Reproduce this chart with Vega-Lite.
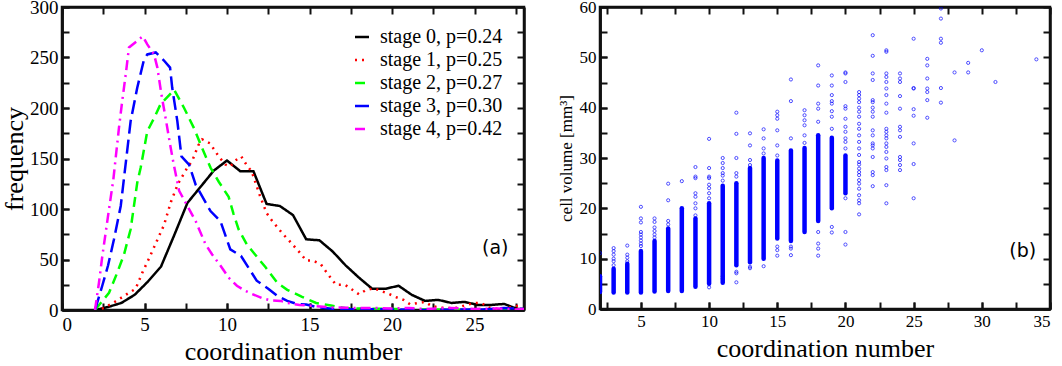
{
  "$schema": "https://vega.github.io/schema/vega-lite/v6.json",
  "padding": {"left": 0, "top": -4, "right": 2, "bottom": 0},
  "spacing": 20,
  "config": {
    "font": "Liberation Serif",
    "view": {"stroke": "#111111", "strokeWidth": 2.5},
    "axis": {"domain": true, "domainColor": "#111111", "domainWidth": 2.5, "grid": false, "ticks": true, "tickColor": "#111111", "tickWidth": 2, "tickSize": -7, "labelColor": "black", "titleColor": "black", "titleFontWeight": "normal", "labelFont": "Liberation Serif", "titleFont": "Liberation Serif", "minExtent": 0}
  },
  "datasets": {
    "hist": [
      {"stage": "stage 0, p=0.24", "n": 2.0, "f": 0}, {"stage": "stage 0, p=0.24", "n": 2.8, "f": 3}, {"stage": "stage 0, p=0.24", "n": 3.6, "f": 7}, {"stage": "stage 0, p=0.24", "n": 4.4, "f": 15}, {"stage": "stage 0, p=0.24", "n": 5.2, "f": 28}, {"stage": "stage 0, p=0.24", "n": 6.0, "f": 43}, {"stage": "stage 0, p=0.24", "n": 6.8, "f": 74}, {"stage": "stage 0, p=0.24", "n": 7.6, "f": 106}, {"stage": "stage 0, p=0.24", "n": 8.4, "f": 122}, {"stage": "stage 0, p=0.24", "n": 9.2, "f": 138}, {"stage": "stage 0, p=0.24", "n": 10.0, "f": 148}, {"stage": "stage 0, p=0.24", "n": 10.8, "f": 137.5}, {"stage": "stage 0, p=0.24", "n": 11.6, "f": 137.5}, {"stage": "stage 0, p=0.24", "n": 12.4, "f": 105}, {"stage": "stage 0, p=0.24", "n": 13.2, "f": 103}, {"stage": "stage 0, p=0.24", "n": 14.0, "f": 94}, {"stage": "stage 0, p=0.24", "n": 14.8, "f": 70}, {"stage": "stage 0, p=0.24", "n": 15.6, "f": 69}, {"stage": "stage 0, p=0.24", "n": 16.4, "f": 58}, {"stage": "stage 0, p=0.24", "n": 17.2, "f": 44}, {"stage": "stage 0, p=0.24", "n": 18.0, "f": 32}, {"stage": "stage 0, p=0.24", "n": 18.8, "f": 21}, {"stage": "stage 0, p=0.24", "n": 19.6, "f": 21}, {"stage": "stage 0, p=0.24", "n": 20.4, "f": 24}, {"stage": "stage 0, p=0.24", "n": 21.2, "f": 15}, {"stage": "stage 0, p=0.24", "n": 22.0, "f": 9}, {"stage": "stage 0, p=0.24", "n": 22.8, "f": 10}, {"stage": "stage 0, p=0.24", "n": 23.6, "f": 7}, {"stage": "stage 0, p=0.24", "n": 24.4, "f": 8}, {"stage": "stage 0, p=0.24", "n": 25.2, "f": 5}, {"stage": "stage 0, p=0.24", "n": 26.0, "f": 5}, {"stage": "stage 0, p=0.24", "n": 26.8, "f": 6}, {"stage": "stage 0, p=0.24", "n": 27.6, "f": 1}, {"stage": "stage 0, p=0.24", "n": 28.4, "f": 1},
      {"stage": "stage 1, p=0.25", "n": 2.0, "f": 0}, {"stage": "stage 1, p=0.25", "n": 2.55, "f": 2}, {"stage": "stage 1, p=0.25", "n": 3.2, "f": 8}, {"stage": "stage 1, p=0.25", "n": 3.96, "f": 16}, {"stage": "stage 1, p=0.25", "n": 4.46, "f": 21}, {"stage": "stage 1, p=0.25", "n": 4.87, "f": 37}, {"stage": "stage 1, p=0.25", "n": 5.3, "f": 52}, {"stage": "stage 1, p=0.25", "n": 5.74, "f": 68}, {"stage": "stage 1, p=0.25", "n": 6.18, "f": 84}, {"stage": "stage 1, p=0.25", "n": 6.6, "f": 107}, {"stage": "stage 1, p=0.25", "n": 7.03, "f": 125}, {"stage": "stage 1, p=0.25", "n": 7.6, "f": 141}, {"stage": "stage 1, p=0.25", "n": 7.9, "f": 148}, {"stage": "stage 1, p=0.25", "n": 8.26, "f": 163}, {"stage": "stage 1, p=0.25", "n": 8.5, "f": 169}, {"stage": "stage 1, p=0.25", "n": 8.97, "f": 165}, {"stage": "stage 1, p=0.25", "n": 9.5, "f": 152}, {"stage": "stage 1, p=0.25", "n": 9.9, "f": 144}, {"stage": "stage 1, p=0.25", "n": 10.2, "f": 142}, {"stage": "stage 1, p=0.25", "n": 10.5, "f": 148}, {"stage": "stage 1, p=0.25", "n": 10.87, "f": 152}, {"stage": "stage 1, p=0.25", "n": 11.17, "f": 144}, {"stage": "stage 1, p=0.25", "n": 11.5, "f": 137}, {"stage": "stage 1, p=0.25", "n": 12.0, "f": 113}, {"stage": "stage 1, p=0.25", "n": 12.4, "f": 96}, {"stage": "stage 1, p=0.25", "n": 12.7, "f": 89}, {"stage": "stage 1, p=0.25", "n": 13.4, "f": 75}, {"stage": "stage 1, p=0.25", "n": 13.75, "f": 69}, {"stage": "stage 1, p=0.25", "n": 14.4, "f": 57}, {"stage": "stage 1, p=0.25", "n": 14.8, "f": 49}, {"stage": "stage 1, p=0.25", "n": 15.2, "f": 49}, {"stage": "stage 1, p=0.25", "n": 15.7, "f": 45}, {"stage": "stage 1, p=0.25", "n": 16.0, "f": 38}, {"stage": "stage 1, p=0.25", "n": 16.6, "f": 25}, {"stage": "stage 1, p=0.25", "n": 17.15, "f": 25}, {"stage": "stage 1, p=0.25", "n": 17.6, "f": 20}, {"stage": "stage 1, p=0.25", "n": 18.0, "f": 15.5}, {"stage": "stage 1, p=0.25", "n": 18.4, "f": 19.5}, {"stage": "stage 1, p=0.25", "n": 18.9, "f": 21.5}, {"stage": "stage 1, p=0.25", "n": 19.3, "f": 19}, {"stage": "stage 1, p=0.25", "n": 19.8, "f": 16}, {"stage": "stage 1, p=0.25", "n": 20.2, "f": 13}, {"stage": "stage 1, p=0.25", "n": 20.7, "f": 10}, {"stage": "stage 1, p=0.25", "n": 21.1, "f": 5.6}, {"stage": "stage 1, p=0.25", "n": 21.6, "f": 7}, {"stage": "stage 1, p=0.25", "n": 22.0, "f": 8}, {"stage": "stage 1, p=0.25", "n": 22.4, "f": 4}, {"stage": "stage 1, p=0.25", "n": 22.95, "f": 2.3}, {"stage": "stage 1, p=0.25", "n": 23.4, "f": 2}, {"stage": "stage 1, p=0.25", "n": 23.95, "f": 2.3}, {"stage": "stage 1, p=0.25", "n": 24.5, "f": 5}, {"stage": "stage 1, p=0.25", "n": 25.0, "f": 7}, {"stage": "stage 1, p=0.25", "n": 25.4, "f": 7}, {"stage": "stage 1, p=0.25", "n": 25.9, "f": 2.3}, {"stage": "stage 1, p=0.25", "n": 26.35, "f": 1.3}, {"stage": "stage 1, p=0.25", "n": 26.8, "f": 0.7}, {"stage": "stage 1, p=0.25", "n": 27.4, "f": 4}, {"stage": "stage 1, p=0.25", "n": 27.9, "f": 4},
      {"stage": "stage 2, p=0.27", "n": 2.0, "f": 0}, {"stage": "stage 2, p=0.27", "n": 2.85, "f": 17}, {"stage": "stage 2, p=0.27", "n": 3.3, "f": 35}, {"stage": "stage 2, p=0.27", "n": 3.76, "f": 55}, {"stage": "stage 2, p=0.27", "n": 4.16, "f": 80}, {"stage": "stage 2, p=0.27", "n": 4.56, "f": 126}, {"stage": "stage 2, p=0.27", "n": 4.77, "f": 141}, {"stage": "stage 2, p=0.27", "n": 5.17, "f": 177}, {"stage": "stage 2, p=0.27", "n": 5.58, "f": 190}, {"stage": "stage 2, p=0.27", "n": 5.98, "f": 204}, {"stage": "stage 2, p=0.27", "n": 6.28, "f": 209}, {"stage": "stage 2, p=0.27", "n": 6.8, "f": 218}, {"stage": "stage 2, p=0.27", "n": 7.4, "f": 200}, {"stage": "stage 2, p=0.27", "n": 8.0, "f": 180}, {"stage": "stage 2, p=0.27", "n": 8.5, "f": 160}, {"stage": "stage 2, p=0.27", "n": 9.0, "f": 141}, {"stage": "stage 2, p=0.27", "n": 9.5, "f": 127}, {"stage": "stage 2, p=0.27", "n": 10.1, "f": 112}, {"stage": "stage 2, p=0.27", "n": 10.4, "f": 95}, {"stage": "stage 2, p=0.27", "n": 10.7, "f": 80}, {"stage": "stage 2, p=0.27", "n": 11.2, "f": 65}, {"stage": "stage 2, p=0.27", "n": 11.7, "f": 55}, {"stage": "stage 2, p=0.27", "n": 12.35, "f": 42}, {"stage": "stage 2, p=0.27", "n": 13.05, "f": 27}, {"stage": "stage 2, p=0.27", "n": 13.65, "f": 20}, {"stage": "stage 2, p=0.27", "n": 14.55, "f": 13}, {"stage": "stage 2, p=0.27", "n": 15.4, "f": 7}, {"stage": "stage 2, p=0.27", "n": 16.3, "f": 4.5}, {"stage": "stage 2, p=0.27", "n": 17.2, "f": 1.8}, {"stage": "stage 2, p=0.27", "n": 18.8, "f": 1.3}, {"stage": "stage 2, p=0.27", "n": 20.0, "f": 1}, {"stage": "stage 2, p=0.27", "n": 22.0, "f": 0.5}, {"stage": "stage 2, p=0.27", "n": 24.0, "f": 0.3}, {"stage": "stage 2, p=0.27", "n": 26.0, "f": 0.5}, {"stage": "stage 2, p=0.27", "n": 28.0, "f": 0},
      {"stage": "stage 3, p=0.30", "n": 2.0, "f": 0}, {"stage": "stage 3, p=0.30", "n": 2.44, "f": 24}, {"stage": "stage 3, p=0.30", "n": 2.79, "f": 44}, {"stage": "stage 3, p=0.30", "n": 3.15, "f": 70}, {"stage": "stage 3, p=0.30", "n": 3.56, "f": 103}, {"stage": "stage 3, p=0.30", "n": 4.16, "f": 187}, {"stage": "stage 3, p=0.30", "n": 4.56, "f": 220}, {"stage": "stage 3, p=0.30", "n": 4.97, "f": 248}, {"stage": "stage 3, p=0.30", "n": 5.17, "f": 253}, {"stage": "stage 3, p=0.30", "n": 5.68, "f": 255}, {"stage": "stage 3, p=0.30", "n": 6.18, "f": 247}, {"stage": "stage 3, p=0.30", "n": 6.55, "f": 240}, {"stage": "stage 3, p=0.30", "n": 6.68, "f": 220}, {"stage": "stage 3, p=0.30", "n": 6.99, "f": 187}, {"stage": "stage 3, p=0.30", "n": 7.24, "f": 152}, {"stage": "stage 3, p=0.30", "n": 7.7, "f": 144}, {"stage": "stage 3, p=0.30", "n": 8.1, "f": 124}, {"stage": "stage 3, p=0.30", "n": 9.0, "f": 98}, {"stage": "stage 3, p=0.30", "n": 9.6, "f": 88}, {"stage": "stage 3, p=0.30", "n": 10.2, "f": 60}, {"stage": "stage 3, p=0.30", "n": 10.85, "f": 53.5}, {"stage": "stage 3, p=0.30", "n": 11.3, "f": 42}, {"stage": "stage 3, p=0.30", "n": 11.8, "f": 29}, {"stage": "stage 3, p=0.30", "n": 12.5, "f": 21}, {"stage": "stage 3, p=0.30", "n": 13.05, "f": 14}, {"stage": "stage 3, p=0.30", "n": 13.65, "f": 9}, {"stage": "stage 3, p=0.30", "n": 14.26, "f": 6}, {"stage": "stage 3, p=0.30", "n": 14.8, "f": 5.5}, {"stage": "stage 3, p=0.30", "n": 15.5, "f": 2.6}, {"stage": "stage 3, p=0.30", "n": 16.9, "f": 0.5}, {"stage": "stage 3, p=0.30", "n": 18.3, "f": 1}, {"stage": "stage 3, p=0.30", "n": 20.0, "f": 0.5}, {"stage": "stage 3, p=0.30", "n": 22.0, "f": 0}, {"stage": "stage 3, p=0.30", "n": 24.0, "f": 0.5}, {"stage": "stage 3, p=0.30", "n": 25.5, "f": 0.5}, {"stage": "stage 3, p=0.30", "n": 26.8, "f": 2}, {"stage": "stage 3, p=0.30", "n": 28.0, "f": 1},
      {"stage": "stage 4, p=0.42", "n": 2.0, "f": 0}, {"stage": "stage 4, p=0.42", "n": 2.24, "f": 27}, {"stage": "stage 4, p=0.42", "n": 2.44, "f": 53}, {"stage": "stage 4, p=0.42", "n": 2.65, "f": 77}, {"stage": "stage 4, p=0.42", "n": 2.85, "f": 100}, {"stage": "stage 4, p=0.42", "n": 3.11, "f": 129}, {"stage": "stage 4, p=0.42", "n": 3.45, "f": 180}, {"stage": "stage 4, p=0.42", "n": 3.65, "f": 207}, {"stage": "stage 4, p=0.42", "n": 3.86, "f": 233}, {"stage": "stage 4, p=0.42", "n": 4.06, "f": 260}, {"stage": "stage 4, p=0.42", "n": 4.9, "f": 271}, {"stage": "stage 4, p=0.42", "n": 5.17, "f": 263}, {"stage": "stage 4, p=0.42", "n": 5.58, "f": 253}, {"stage": "stage 4, p=0.42", "n": 5.78, "f": 240}, {"stage": "stage 4, p=0.42", "n": 6.02, "f": 214}, {"stage": "stage 4, p=0.42", "n": 6.28, "f": 190}, {"stage": "stage 4, p=0.42", "n": 6.55, "f": 164}, {"stage": "stage 4, p=0.42", "n": 6.75, "f": 146}, {"stage": "stage 4, p=0.42", "n": 7.1, "f": 118}, {"stage": "stage 4, p=0.42", "n": 7.6, "f": 103}, {"stage": "stage 4, p=0.42", "n": 8.1, "f": 88}, {"stage": "stage 4, p=0.42", "n": 8.7, "f": 65}, {"stage": "stage 4, p=0.42", "n": 9.1, "f": 55}, {"stage": "stage 4, p=0.42", "n": 9.6, "f": 44}, {"stage": "stage 4, p=0.42", "n": 10.1, "f": 32}, {"stage": "stage 4, p=0.42", "n": 10.6, "f": 24}, {"stage": "stage 4, p=0.42", "n": 11.1, "f": 19}, {"stage": "stage 4, p=0.42", "n": 11.5, "f": 16}, {"stage": "stage 4, p=0.42", "n": 12.1, "f": 12}, {"stage": "stage 4, p=0.42", "n": 12.6, "f": 9.6}, {"stage": "stage 4, p=0.42", "n": 13.25, "f": 9}, {"stage": "stage 4, p=0.42", "n": 13.65, "f": 7}, {"stage": "stage 4, p=0.42", "n": 14.4, "f": 5}, {"stage": "stage 4, p=0.42", "n": 15.2, "f": 4}, {"stage": "stage 4, p=0.42", "n": 16.3, "f": 2.5}, {"stage": "stage 4, p=0.42", "n": 18.0, "f": 2}, {"stage": "stage 4, p=0.42", "n": 18.8, "f": 2}, {"stage": "stage 4, p=0.42", "n": 20.0, "f": 1.5}, {"stage": "stage 4, p=0.42", "n": 21.0, "f": 2}, {"stage": "stage 4, p=0.42", "n": 22.0, "f": 1}, {"stage": "stage 4, p=0.42", "n": 23.5, "f": 2}, {"stage": "stage 4, p=0.42", "n": 25.0, "f": 1}, {"stage": "stage 4, p=0.42", "n": 26.5, "f": 1.5}, {"stage": "stage 4, p=0.42", "n": 27.5, "f": 0.5}, {"stage": "stage 4, p=0.42", "n": 28.0, "f": 1}
    ],
    "bands": [
      {"n": 2, "lo": 3.4, "hi": 6.5}, {"n": 3, "lo": 3.3, "hi": 8.0}, {"n": 4, "lo": 3.3, "hi": 9.0}, {"n": 5, "lo": 3.3, "hi": 11.5}, {"n": 6, "lo": 3.5, "hi": 13.5}, {"n": 7, "lo": 3.6, "hi": 16.0}, {"n": 8, "lo": 3.6, "hi": 20.0}, {"n": 9, "lo": 4.4, "hi": 18.0}, {"n": 10, "lo": 5.0, "hi": 21.0}, {"n": 11, "lo": 5.2, "hi": 24.5}, {"n": 12, "lo": 8.7, "hi": 25.0}, {"n": 13, "lo": 9.3, "hi": 28.0}, {"n": 14, "lo": 10.0, "hi": 30.0}, {"n": 15, "lo": 14.0, "hi": 29.5}, {"n": 16, "lo": 13.5, "hi": 31.5}, {"n": 17, "lo": 15.3, "hi": 32.0}, {"n": 18, "lo": 17.5, "hi": 34.5}, {"n": 19, "lo": 20.0, "hi": 34.0}, {"n": 20, "lo": 23.0, "hi": 30.5}
    ],
    "pts": [
      {"n": 2, "v": 11.1},
      {"n": 3, "v": 8.7}, {"n": 3, "v": 9.5}, {"n": 3, "v": 10.0}, {"n": 3, "v": 10.8}, {"n": 3, "v": 11.5}, {"n": 3, "v": 12.1},
      {"n": 4, "v": 9.5}, {"n": 4, "v": 10.2}, {"n": 4, "v": 10.8}, {"n": 4, "v": 12.6},
      {"n": 5, "v": 12.5}, {"n": 5, "v": 13.0}, {"n": 5, "v": 13.6}, {"n": 5, "v": 14.2}, {"n": 5, "v": 14.8}, {"n": 5, "v": 15.3}, {"n": 5, "v": 17.2}, {"n": 5, "v": 18.0}, {"n": 5, "v": 20.3},
      {"n": 6, "v": 14.2}, {"n": 6, "v": 14.8}, {"n": 6, "v": 15.5}, {"n": 6, "v": 16.2}, {"n": 6, "v": 17.3}, {"n": 6, "v": 18.0},
      {"n": 7, "v": 16.8}, {"n": 7, "v": 17.5}, {"n": 7, "v": 21.6}, {"n": 7, "v": 24.9},
      {"n": 8, "v": 25.4},
      {"n": 9, "v": 18.6}, {"n": 9, "v": 20.0}, {"n": 9, "v": 21.0}, {"n": 9, "v": 22.3}, {"n": 9, "v": 23.0}, {"n": 9, "v": 26.0}, {"n": 9, "v": 26.3}, {"n": 9, "v": 28.2},
      {"n": 10, "v": 4.3}, {"n": 10, "v": 22.0}, {"n": 10, "v": 23.0}, {"n": 10, "v": 24.0}, {"n": 10, "v": 24.7}, {"n": 10, "v": 26.0}, {"n": 10, "v": 26.3}, {"n": 10, "v": 28.0}, {"n": 10, "v": 33.8},
      {"n": 11, "v": 6.0}, {"n": 11, "v": 6.5}, {"n": 11, "v": 25.5}, {"n": 11, "v": 26.5}, {"n": 11, "v": 27.0}, {"n": 11, "v": 28.0}, {"n": 11, "v": 29.0}, {"n": 11, "v": 30.0},
      {"n": 12, "v": 5.3}, {"n": 12, "v": 7.1}, {"n": 12, "v": 7.4}, {"n": 12, "v": 26.3}, {"n": 12, "v": 27.0}, {"n": 12, "v": 30.0}, {"n": 12, "v": 34.8}, {"n": 12, "v": 39.0},
      {"n": 13, "v": 8.1}, {"n": 13, "v": 8.4}, {"n": 13, "v": 28.6}, {"n": 13, "v": 29.6}, {"n": 13, "v": 32.5}, {"n": 13, "v": 34.9},
      {"n": 14, "v": 8.5}, {"n": 14, "v": 30.9}, {"n": 14, "v": 31.9}, {"n": 14, "v": 33.9}, {"n": 14, "v": 35.7},
      {"n": 15, "v": 10.6}, {"n": 15, "v": 11.7}, {"n": 15, "v": 12.4}, {"n": 15, "v": 30.5}, {"n": 15, "v": 32.5}, {"n": 15, "v": 35.5}, {"n": 15, "v": 37.8}, {"n": 15, "v": 38.5}, {"n": 15, "v": 39.2},
      {"n": 16, "v": 10.7}, {"n": 16, "v": 12.0}, {"n": 16, "v": 12.4}, {"n": 16, "v": 33.9}, {"n": 16, "v": 41.3}, {"n": 16, "v": 45.6},
      {"n": 17, "v": 33.0}, {"n": 17, "v": 34.5}, {"n": 17, "v": 36.5}, {"n": 17, "v": 37.5}, {"n": 17, "v": 38.5}, {"n": 17, "v": 39.5},
      {"n": 18, "v": 10.6}, {"n": 18, "v": 12.0}, {"n": 18, "v": 13.0}, {"n": 18, "v": 15.3}, {"n": 18, "v": 37.2}, {"n": 18, "v": 39.8}, {"n": 18, "v": 40.8}, {"n": 18, "v": 44.4}, {"n": 18, "v": 48.4},
      {"n": 19, "v": 15.2}, {"n": 19, "v": 16.3}, {"n": 19, "v": 35.8}, {"n": 19, "v": 38.2}, {"n": 19, "v": 39.3}, {"n": 19, "v": 40.8}, {"n": 19, "v": 41.3}, {"n": 19, "v": 42.5}, {"n": 19, "v": 44.4}, {"n": 19, "v": 46.4},
      {"n": 20, "v": 12.8}, {"n": 20, "v": 15.3}, {"n": 20, "v": 22.0}, {"n": 20, "v": 31.9}, {"n": 20, "v": 33.2}, {"n": 20, "v": 33.9}, {"n": 20, "v": 35.2}, {"n": 20, "v": 36.2}, {"n": 20, "v": 37.8}, {"n": 20, "v": 39.8}, {"n": 20, "v": 40.3}, {"n": 20, "v": 45.1}, {"n": 20, "v": 46.8}, {"n": 20, "v": 47.0},
      {"n": 21, "v": 18.8}, {"n": 21, "v": 21.0}, {"n": 21, "v": 21.6}, {"n": 21, "v": 22.6}, {"n": 21, "v": 23.9}, {"n": 21, "v": 24.9}, {"n": 21, "v": 25.6}, {"n": 21, "v": 26.6}, {"n": 21, "v": 27.2}, {"n": 21, "v": 27.9}, {"n": 21, "v": 28.7}, {"n": 21, "v": 29.2}, {"n": 21, "v": 30.6}, {"n": 21, "v": 31.9}, {"n": 21, "v": 33.2}, {"n": 21, "v": 34.5}, {"n": 21, "v": 35.8}, {"n": 21, "v": 36.8}, {"n": 21, "v": 38.2}, {"n": 21, "v": 39.2}, {"n": 21, "v": 40.0}, {"n": 21, "v": 41.1}, {"n": 21, "v": 41.8}, {"n": 21, "v": 42.5}, {"n": 21, "v": 43.1},
      {"n": 22, "v": 24.4}, {"n": 22, "v": 26.6}, {"n": 22, "v": 27.2}, {"n": 22, "v": 30.2}, {"n": 22, "v": 31.9}, {"n": 22, "v": 32.5}, {"n": 22, "v": 32.9}, {"n": 22, "v": 34.5}, {"n": 22, "v": 35.5}, {"n": 22, "v": 38.2}, {"n": 22, "v": 39.2}, {"n": 22, "v": 40.0}, {"n": 22, "v": 41.1}, {"n": 22, "v": 41.5}, {"n": 22, "v": 45.5}, {"n": 22, "v": 46.8}, {"n": 22, "v": 50.3}, {"n": 22, "v": 54.4},
      {"n": 23, "v": 21.0}, {"n": 23, "v": 24.6}, {"n": 23, "v": 27.6}, {"n": 23, "v": 28.2}, {"n": 23, "v": 29.9}, {"n": 23, "v": 31.2}, {"n": 23, "v": 32.2}, {"n": 23, "v": 32.9}, {"n": 23, "v": 33.9}, {"n": 23, "v": 34.5}, {"n": 23, "v": 35.2}, {"n": 23, "v": 35.8}, {"n": 23, "v": 39.0}, {"n": 23, "v": 40.8}, {"n": 23, "v": 42.5}, {"n": 23, "v": 43.8}, {"n": 23, "v": 45.1}, {"n": 23, "v": 46.1}, {"n": 23, "v": 46.8}, {"n": 23, "v": 51.1}, {"n": 23, "v": 51.4},
      {"n": 24, "v": 27.6}, {"n": 24, "v": 28.6}, {"n": 24, "v": 29.6}, {"n": 24, "v": 30.2}, {"n": 24, "v": 34.2}, {"n": 24, "v": 35.5}, {"n": 24, "v": 36.2}, {"n": 24, "v": 39.8}, {"n": 24, "v": 42.3}, {"n": 24, "v": 45.1}, {"n": 24, "v": 45.8}, {"n": 24, "v": 46.8},
      {"n": 25, "v": 22.0}, {"n": 25, "v": 28.8}, {"n": 25, "v": 32.9}, {"n": 25, "v": 38.4}, {"n": 25, "v": 39.7}, {"n": 25, "v": 43.8}, {"n": 25, "v": 43.9}, {"n": 25, "v": 53.7},
      {"n": 26, "v": 38.0}, {"n": 26, "v": 41.5}, {"n": 26, "v": 43.1}, {"n": 26, "v": 43.8}, {"n": 26, "v": 45.8}, {"n": 26, "v": 48.4}, {"n": 26, "v": 49.7},
      {"n": 27, "v": 41.0}, {"n": 27, "v": 43.9}, {"n": 27, "v": 52.9}, {"n": 27, "v": 53.7}, {"n": 27, "v": 57.7}, {"n": 27, "v": 59.7},
      {"n": 28, "v": 33.5}, {"n": 28, "v": 47.0},
      {"n": 29, "v": 47.0}, {"n": 29, "v": 48.9},
      {"n": 30, "v": 51.4},
      {"n": 31, "v": 45.1},
      {"n": 34, "v": 49.6}
    ],
    "notes": [
      {"panel": "a", "label": "(a)", "n": 26.26, "f": 61},
      {"panel": "b", "label": "(b)", "n": 33.0, "f": 11.5}
    ]
  },
  "hconcat": [
    {
      "width": 462,
      "height": 303,
      "layer": [
        {
          "data": {"name": "hist"},
          "mark": {"type": "line", "strokeWidth": 2.5, "clip": true},
          "encoding": {
            "x": {"field": "n", "type": "quantitative", "scale": {"domain": [0, 28], "nice": false, "zero": false},
              "axis": {"orient": "bottom", "title": "coordination number", "titleFontSize": 26, "titlePadding": 4, "labelFontSize": 19, "labelPadding": 12,
                "values": [0, 5, 10, 15, 20, 25]}},
            "y": {"field": "f", "type": "quantitative", "scale": {"domain": [0, 300], "nice": false},
              "axis": {"orient": "left", "title": "frequency", "titleFontSize": 26, "titlePadding": 2, "labelFontSize": 19, "labelPadding": 11,
                "values": [0, 50, 100, 150, 200, 250, 300]}},
            "color": {"field": "stage", "type": "nominal",
              "scale": {"domain": ["stage 0, p=0.24", "stage 1, p=0.25", "stage 2, p=0.27", "stage 3, p=0.30", "stage 4, p=0.42"], "range": ["#000000", "#ff0000", "#00ff00", "#0000ff", "#ff00ff"]},
              "legend": {"orient": "none", "legendX": 290, "legendY": 20, "title": null, "labelFont": "Liberation Serif", "labelFontSize": 20, "labelColor": "black", "labelLimit": 300, "labelOffset": 8, "symbolType": "stroke", "symbolSize": 196, "symbolStrokeWidth": 2.5, "rowPadding": 3}},
            "strokeDash": {"field": "stage", "type": "nominal",
              "scale": {"domain": ["stage 0, p=0.24", "stage 1, p=0.25", "stage 2, p=0.27", "stage 3, p=0.30", "stage 4, p=0.42"], "range": [[1, 0], [2, 5], [10, 6], [14, 6], [10, 5, 2, 5]]},
              "legend": {"orient": "none", "legendX": 290, "legendY": 20, "title": null, "labelFont": "Liberation Serif", "labelFontSize": 20, "labelColor": "black", "labelLimit": 300, "labelOffset": 8, "symbolType": "stroke", "symbolSize": 196, "symbolStrokeWidth": 2.5, "rowPadding": 3}}
          }
        },
        {
          "data": {"name": "hist"},
          "mark": {"type": "point", "opacity": 0},
          "encoding": {
            "x": {"field": "n", "type": "quantitative",
              "axis": {"orient": "bottom", "title": null, "labels": false,
                "values": [0, 2.5, 5, 7.5, 10, 12.5, 15, 17.5, 20, 22.5, 25, 27.5]}},
            "y": {"field": "f", "type": "quantitative",
              "axis": {"orient": "left", "title": null, "labels": false,
                "values": [0, 25, 50, 75, 100, 125, 150, 175, 200, 225, 250, 275, 300]}}
          }
        },
        {
          "data": {"name": "notes"},
          "transform": [{"filter": "datum.panel === 'a'"}],
          "mark": {"type": "text", "font": "DejaVu Sans", "fontSize": 19, "align": "center", "baseline": "middle", "color": "black"},
          "encoding": {
            "x": {"field": "n", "type": "quantitative",
              "axis": {"orient": "top", "title": null, "labels": false,
                "values": [0, 2.5, 5, 7.5, 10, 12.5, 15, 17.5, 20, 22.5, 25, 27.5]}},
            "y": {"field": "f", "type": "quantitative",
              "axis": {"orient": "right", "title": null, "labels": false,
                "values": [0, 25, 50, 75, 100, 125, 150, 175, 200, 225, 250, 275, 300]}},
            "text": {"field": "label"}
          }
        }
      ],
      "resolve": {"axis": {"x": "independent", "y": "independent"}}
    },
    {
      "width": 450,
      "height": 302,
      "layer": [
        {
          "data": {"name": "bands"},
          "mark": {"type": "rule", "strokeWidth": 4.5, "color": "#0000ff", "strokeCap": "round", "clip": true},
          "encoding": {
            "x": {"field": "n", "type": "quantitative", "scale": {"domain": [2, 35], "nice": false, "zero": false},
              "axis": {"orient": "bottom", "title": "coordination number", "titleFontSize": 26, "titlePadding": 6, "labelFontSize": 17, "labelPadding": 11,
                "values": [5, 10, 15, 20, 25, 30, 35]}},
            "y": {"field": "lo", "type": "quantitative", "scale": {"domain": [0, 60], "nice": false},
              "axis": {"orient": "left", "title": "cell volume [mm³]", "titleFontSize": 17, "titlePadding": 4, "labelFontSize": 17, "labelPadding": 11,
                "values": [0, 10, 20, 30, 40, 50, 60]}},
            "y2": {"field": "hi"}
          }
        },
        {
          "data": {"name": "pts"},
          "mark": {"type": "point", "shape": "circle", "filled": false, "size": 10, "strokeWidth": 1, "color": "#0000ff", "clip": true},
          "encoding": {
            "x": {"field": "n", "type": "quantitative",
              "axis": {"orient": "top", "title": null, "labels": false,
                "values": [2.5, 5, 7.5, 10, 12.5, 15, 17.5, 20, 22.5, 25, 27.5, 30, 32.5, 35]}},
            "y": {"field": "v", "type": "quantitative",
              "axis": {"orient": "right", "title": null, "labels": false,
                "values": [0, 5, 10, 15, 20, 25, 30, 35, 40, 45, 50, 55, 60]}}
          }
        },
        {
          "data": {"name": "notes"},
          "transform": [{"filter": "datum.panel === 'b'"}],
          "mark": {"type": "text", "font": "DejaVu Sans", "fontSize": 19, "align": "center", "baseline": "middle", "color": "black"},
          "encoding": {
            "x": {"field": "n", "type": "quantitative",
              "axis": {"orient": "bottom", "title": null, "labels": false,
                "values": [2.5, 5, 7.5, 10, 12.5, 15, 17.5, 20, 22.5, 25, 27.5, 30, 32.5, 35]}},
            "y": {"field": "f", "type": "quantitative",
              "axis": {"orient": "left", "title": null, "labels": false,
                "values": [0, 5, 10, 15, 20, 25, 30, 35, 40, 45, 50, 55, 60]}},
            "text": {"field": "label"}
          }
        }
      ],
      "resolve": {"axis": {"x": "independent", "y": "independent"}}
    }
  ]
}
